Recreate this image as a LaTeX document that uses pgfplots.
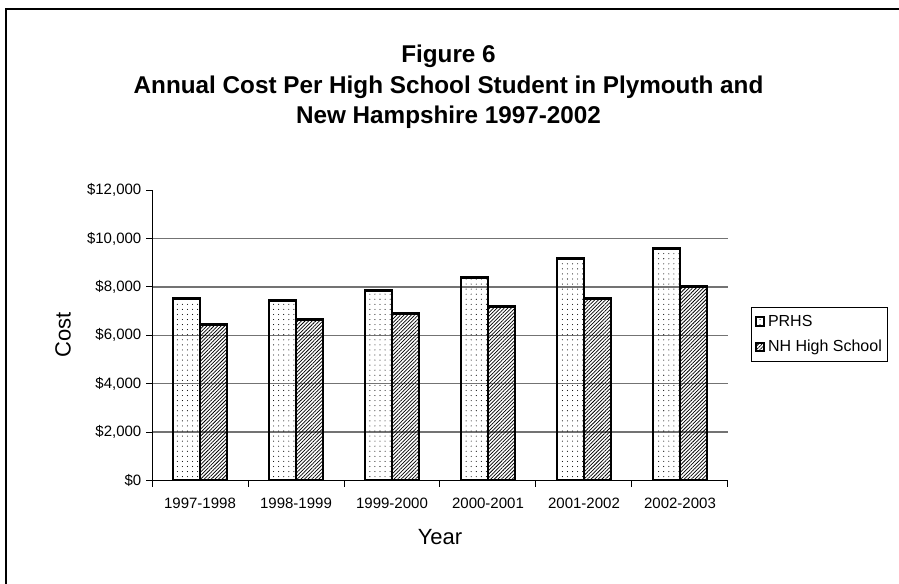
\documentclass[border=0pt]{standalone}
\usepackage{fontspec}
\setmainfont{Liberation Sans}
\usepackage{pgfplots}
\pgfplotsset{compat=1.18}
\usetikzlibrary{patterns.meta}

\pgfplotsset{sqlegend/.style={legend image code/.code={\draw[##1, line width=1.5pt] (0pt,-3.2pt) rectangle (6.4pt,3.2pt);}}}

\pgfplotstableread{
x prhs nh
0 7510 6450
1 7430 6660
2 7860 6880
3 8400 7180
4 9170 7510
5 9580 8020
}\costdata

\begin{document}
\begin{tikzpicture}[x=0.75pt,y=0.75pt]
\path[use as bounding box] (0,0) rectangle (899,583);
\draw[line width=1.5pt] (6,-10) -- (6,574) -- (910,574);
\begin{axis}[
  at={(114pt,76.875pt)}, anchor=south west,
  scale only axis, width=432pt, height=217.875pt,
  xmin=-0.5, xmax=5.5, ymin=0, ymax=12000,
  scaled y ticks=false,
  axis x line*=bottom, axis y line*=left,
  axis line style={-, black, line width=0.75pt},
  xtick={0,...,5},
  xticklabels={1997-1998,1998-1999,1999-2000,2000-2001,2001-2002,2002-2003},
  major x tick style={draw=none},
  minor xtick={-0.5,0.5,...,5.5},
  minor x tick style={black, line width=0.75pt},
  minor tick length=4.5pt,
  major tick length=4.5pt,
  tick align=outside,
  ytick={0,2000,...,10000},
  yticklabels={{\$0},{\$2{,}000},{\$4{,}000},{\$6{,}000},{\$8{,}000},{\$10{,}000}},
  extra y ticks={12000},
  extra y tick labels={\$12{,}000},
  extra y tick style={grid=none},
  y tick style={black, line width=0.75pt},
  ymajorgrids,
  grid style={black!55, line width=1pt},
  tick label style={font=\fontsize{11.25}{13}\selectfont, black},
  xticklabel style={yshift=-5pt},
  xlabel={Year},
  ylabel={Cost},
  label style={font=\fontsize{16.5}{19}\selectfont},
  xlabel style={at={(axis description cs:0.5,-0.222)}, anchor=base},
  ylabel style={at={(axis description cs:-0.1545,0.5)}, anchor=center},
  legend cell align=left,
  legend style={at={(axis description cs:1.0399,0.597)}, anchor=north west,
    draw=black, line width=0.75pt, font=\fontsize{12}{14}\selectfont,
    inner xsep=2.5pt, inner ysep=3.5pt, row sep=5pt},
  ybar, bar width=20.25pt,
]
\addplot[bar shift=-10.125pt, draw=black,
  pattern={Dots[radius=0.4pt, distance=3.8pt]}, pattern color=black,
  line width=2.2pt, sqlegend]
  table[x=x, y=prhs] {\costdata};
\addlegendentry{PRHS}
\addplot[bar shift=10.125pt, draw=black,
  pattern={Lines[angle=45, distance=1.9pt, line width=0.55pt]}, pattern color=black,
  line width=2.2pt, sqlegend]
  table[x=x, y=nh] {\costdata};
\addlegendentry{NH High School}
\end{axis}
\begin{scope}[font=\bfseries\fontsize{18.2}{21}\selectfont]
\node[anchor=base] at (448.5,520) {Figure 6};
\node[anchor=base] at (448.5,489.5) {Annual Cost Per High School Student in Plymouth and};
\node[anchor=base] at (448.5,459) {New Hampshire 1997-2002};
\end{scope}
\end{tikzpicture}
\end{document}
